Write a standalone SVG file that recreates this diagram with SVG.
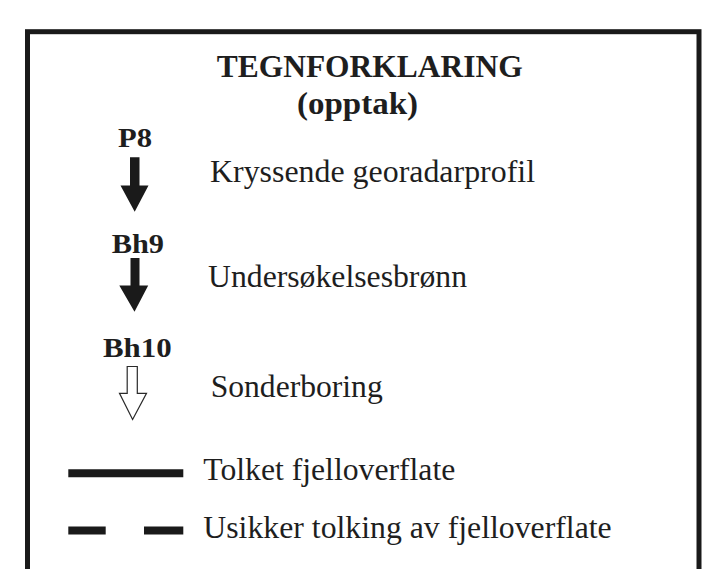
<svg xmlns="http://www.w3.org/2000/svg" width="720" height="569" viewBox="0 0 720 569">
<style>
text{font-family:'Liberation Serif','Times New Roman',serif;fill:#1e1e1e}
.b{font-weight:bold}
.r{font-size:31px}
.lbl{font-size:28px}
.arr{fill:#1a1a1a}
.hol{fill:#ffffff;stroke:#2a2a2a;stroke-width:1.2;stroke-linejoin:miter}
.ln{stroke:#1a1a1a;stroke-width:8}
</style>
<rect width="720" height="569" fill="#ffffff"/>
<rect x="27.5" y="31.7" width="671.5" height="560" fill="none" stroke="#1a1a1a" stroke-width="5"/>
<g id="title">
<text class="b" x="216.7" y="77.3" font-size="32" textLength="306" lengthAdjust="spacingAndGlyphs">TEGNFORKLARING</text>
<text class="b" x="297" y="113.5" font-size="32" textLength="121" lengthAdjust="spacingAndGlyphs">(opptak)</text>
</g>
<g id="p8">
<text class="b lbl" x="118" y="147" textLength="34" lengthAdjust="spacingAndGlyphs">P8</text>
<polygon class="arr" points="130,157.3 139.5,157.3 139.5,185.5 148.5,185.5 134.7,211.8 120.5,185.5 130,185.5"/>
<text class="r" x="210" y="182" textLength="325" lengthAdjust="spacingAndGlyphs">Kryssende georadarprofil</text>
</g>
<g id="bh9">
<text class="b lbl" x="111.7" y="253" textLength="52.3" lengthAdjust="spacingAndGlyphs">Bh9</text>
<polygon class="arr" points="130.5,258 139.5,258 139.5,285.5 148.2,285.5 134.5,311.8 119.3,285.5 130.5,285.5"/>
<text class="r" x="208" y="286.7" textLength="259" lengthAdjust="spacingAndGlyphs">Undersøkelsesbrønn</text>
</g>
<g id="bh10">
<text class="b lbl" x="103" y="357" textLength="68.7" lengthAdjust="spacingAndGlyphs">Bh10</text>
<polygon class="hol" points="127.2,366.5 137.3,366.5 137.3,393.3 146.5,393.3 132.6,419.5 119.5,393.3 127.2,393.3"/>
<text class="r" x="210.7" y="397.3" textLength="172" lengthAdjust="spacingAndGlyphs">Sonderboring</text>
</g>
<g id="tolket">
<line class="ln" x1="68.3" y1="473.3" x2="183.3" y2="473.3"/>
<text class="r" x="203.3" y="480" textLength="252" lengthAdjust="spacingAndGlyphs">Tolket fjelloverflate</text>
</g>
<g id="usikker">
<line class="ln" x1="68.3" y1="530.5" x2="105.7" y2="530.5"/>
<line class="ln" x1="144" y1="530.5" x2="183.3" y2="530.5"/>
<text class="r" x="203.3" y="537.5" textLength="408.4" lengthAdjust="spacingAndGlyphs">Usikker tolking av fjelloverflate</text>
</g>
<g id="connectors"></g>
</svg>
